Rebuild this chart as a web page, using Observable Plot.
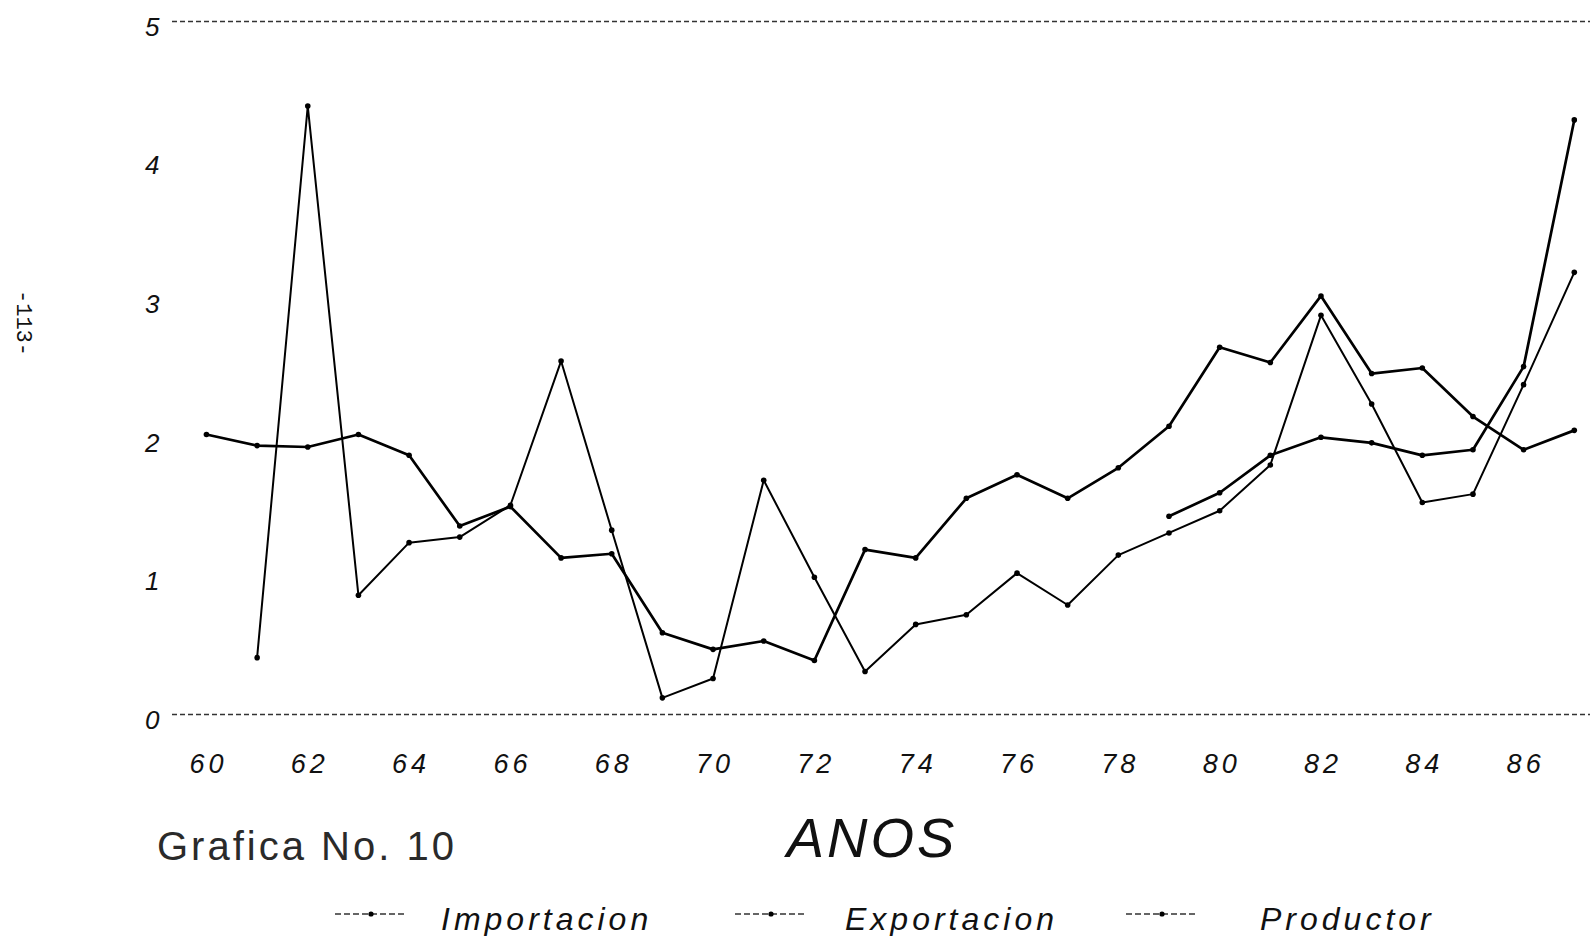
<!DOCTYPE html>
<html>
<head>
<meta charset="utf-8">
<script src="https://cdn.jsdelivr.net/npm/d3@7"></script>
<script src="https://cdn.jsdelivr.net/npm/@observablehq/plot@0.6"></script>
<style>
  html, body { margin: 0; padding: 0; background: #fff; }
  body { width: 1590px; height: 936px; position: relative; overflow: hidden; font-family: "Liberation Sans", Arial, sans-serif; color: #111; }
  #chart { position: absolute; left: 0; top: 0; }
  .abs { position: absolute; line-height: 1; white-space: nowrap; }
  #chart g[aria-label="x-axis tick label"] text { letter-spacing: 4px; }
  #chart g[aria-label="y-axis tick label"] text { letter-spacing: 1px; }
  .leg { font-style: italic; font-size: 32px; letter-spacing: 4px; top: 903px; }
</style>
</head>
<body>
<div id="chart"></div>
<div class="abs" style="left:6px; top:290px; font-family:'Liberation Mono', 'DejaVu Sans Mono', monospace; font-size:22px; transform-origin: 0 0; transform: translate(27px,0) rotate(90deg);">-113-</div>
<div class="abs" style="left:872px; top:810px; transform:translateX(-50%); font-style:italic; font-size:56px; letter-spacing:3px;">ANOS</div>
<div class="abs" style="left:157px; top:826px; font-size:40px; letter-spacing:3px; color:#2a2a2a;">Grafica No. 10</div>
<div id="legend"></div>
<script>
// Years (two-digit, 1960-1987)
const years = [60,61,62,63,64,65,66,67,68,69,70,71,72,73,74,75,76,77,78,79,80,81,82,83,84,85,86,87];
const importacion = [2.02,1.94,1.93,2.02,1.87,1.36,1.50,1.13,1.16,0.59,0.47,0.53,0.39,1.19,1.13,1.56,1.73,1.56,1.78,2.08,2.65,2.54,3.02,2.46,2.50,2.15,1.91,2.05];
const exportacion = [null,0.41,4.39,0.86,1.24,1.28,1.51,2.55,1.33,0.12,0.26,1.69,0.99,0.31,0.65,0.72,1.02,0.79,1.15,1.31,1.47,1.80,2.88,2.24,1.53,1.59,2.38,3.19];
const productor = [null,null,null,null,null,null,null,null,null,null,null,null,null,null,null,null,null,null,null,1.43,1.60,1.87,2.00,1.96,1.87,1.91,2.51,4.29];
const seriesNames = ["Importacion", "Exportacion", "Productor"];
const xTicks = [60,62,64,66,68,70,72,74,76,78,80,82,84,86];
const yTicks = [0,1,2,3,4,5];
const gridValues = [0,5];

const seriesValues = [importacion, exportacion, productor];
const rows = [];
seriesNames.forEach((name, si) => {
  years.forEach((yr, i) => {
    const v = seriesValues[si][i];
    if (v != null) rows.push({serie: name, year: yr, value: v});
  });
});
const widths = {Importacion: 2.7, Exportacion: 2.0, Productor: 2.7};

const plot = Plot.plot({
  width: 1590,
  height: 780,
  marginTop: 21,
  marginBottom: 66,
  marginLeft: 172,
  marginRight: 0,
  style: {fontFamily: "'Liberation Sans', Arial, sans-serif", color: "#111", background: "#fff"},
  x: {domain: [59.33, 87.32], label: null},
  y: {domain: [0, 5], label: null},
  marks: [
    Plot.ruleY(gridValues, {stroke: "#333", strokeWidth: 1.6, strokeDasharray: "5,3"}),
    ...seriesNames.map(name => Plot.line(rows.filter(d => d.serie === name), {
      x: "year", y: "value", stroke: "#000", strokeWidth: widths[name], strokeLinejoin: "round"
    })),
    Plot.dot(rows, {x: "year", y: "value", r: 2.8, fill: "#000", stroke: "none"}),
    Plot.axisY(yTicks, {label: null, tickSize: 0, tickPadding: 12, fontSize: 26, fontStyle: "italic", dy: 6, tickFormat: d => String(d)}),
    Plot.axisX(xTicks, {label: null, tickSize: 0, tickPadding: 39, fontSize: 27, fontStyle: "italic", dx: 2, tickFormat: d => String(d)})
  ]
});
document.getElementById("chart").appendChild(plot);

// Legend
const legendPos = [
  {lineX: 335, textX: 441},
  {lineX: 735, textX: 845},
  {lineX: 1126, textX: 1260}
];
const legend = document.getElementById("legend");
seriesNames.forEach((name, i) => {
  const p = legendPos[i];
  const s = document.createElementNS("http://www.w3.org/2000/svg", "svg");
  s.setAttribute("width", "74"); s.setAttribute("height", "12");
  s.style.position = "absolute"; s.style.left = p.lineX + "px"; s.style.top = "908px";
  s.innerHTML = `<line x1="0" y1="6" x2="72" y2="6" stroke="#333" stroke-width="1.6" stroke-dasharray="6,3"/>` +
                `<circle cx="36" cy="6" r="2.6" fill="#000"/>`;
  legend.appendChild(s);
  const t = document.createElement("div");
  t.className = "abs leg";
  t.style.left = p.textX + "px";
  t.textContent = name;
  legend.appendChild(t);
});
</script>
</body>
</html>
